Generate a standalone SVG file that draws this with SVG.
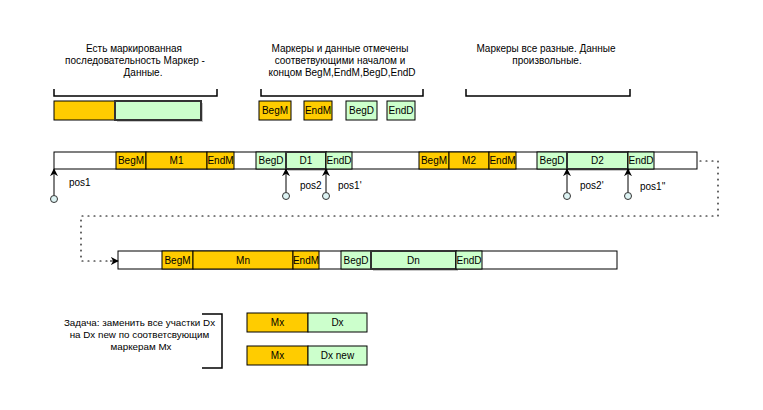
<svg xmlns="http://www.w3.org/2000/svg" width="763" height="410" viewBox="0 0 763 410">
<style>
text{font-family:"Liberation Sans",Arial,sans-serif;font-size:10px;fill:#000}
.c{text-anchor:middle}
.m{fill:#ffcc00;stroke:#000;stroke-width:1}
.d{fill:#ccffcc;stroke:#000;stroke-width:1}
.dt{fill:#ccffcc;stroke:#333;stroke-width:2}
.w{fill:#fff;stroke:#000;stroke-width:1}
.sh{fill:#000;opacity:.22}
.br{fill:none;stroke:#000;stroke-width:1.5}
.ar{fill:none;stroke:#000;stroke-width:1}
.dot{fill:none;stroke:#000;stroke-width:1.2;stroke-dasharray:1 5;stroke-linecap:round}
.o{fill:#ddf3f3;stroke:#333;stroke-width:1}
</style>
<defs>
<marker id="ah" viewBox="0 0 10 10" refX="9" refY="5" markerWidth="8" markerHeight="8" markerUnits="userSpaceOnUse" orient="auto">
<path d="M0,0 L10,5 L0,10 L3,5 Z" fill="#000"/>
</marker>
</defs>

<g id="note1">
<text class="c" x="134" y="52">Есть маркированная</text>
<text class="c" x="135" y="64">последовательность Маркер -</text>
<text class="c" x="143" y="76">Данные.</text>
<path class="br" d="M54,89 V96 H217 V89"/>
</g>
<g id="note2">
<text class="c" x="340" y="52">Маркеры и данные отмечены</text>
<text class="c" x="340" y="64">соответвующими началом и</text>
<text class="c" x="342" y="76">концом BegM,EndM,BegD,EndD</text>
<path class="br" d="M261,89 V96 H423 V89"/>
</g>
<g id="note3">
<text class="c" x="546" y="52">Маркеры все разные. Данные</text>
<text class="c" x="547" y="64">произвольные.</text>
<path class="br" d="M466,89 V96 H630 V89"/>
</g>

<g id="sample">
<rect class="m" x="54" y="101" width="61" height="19"/>
<rect class="sh" x="117" y="103" width="86" height="19"/>
<rect class="dt" x="115" y="101" width="86" height="19"/>
</g>
<g id="legend-BegM"><rect class="m" x="259" y="101" width="32" height="19"/><text class="c" x="275" y="114">BegM</text></g>
<g id="legend-EndM"><rect class="m" x="304" y="101" width="28" height="19"/><text class="c" x="318" y="114">EndM</text></g>
<g id="legend-BegD"><rect class="d" x="346" y="101" width="31" height="19"/><text class="c" x="361.5" y="114">BegD</text></g>
<g id="legend-EndD"><rect class="d" x="387" y="101" width="28" height="19"/><text class="c" x="401" y="114">EndD</text></g>

<g id="seq1">
<rect class="w" x="54" y="152" width="643" height="17"/>
<rect class="m" x="116" y="152" width="30" height="17"/><text class="c" x="131" y="164">BegM</text>
<rect class="m" x="146" y="152" width="61" height="17"/><text class="c" x="176.5" y="164">M1</text>
<rect class="m" x="207" y="152" width="27" height="17"/><text class="c" x="220.5" y="164">EndM</text>
<rect class="d" x="256" y="152" width="30" height="17"/><text class="c" x="271" y="164">BegD</text>
<rect class="sh" x="288" y="154" width="40" height="17"/>
<rect class="dt" x="286" y="152" width="40" height="17"/><text class="c" x="306" y="164">D1</text>
<rect class="d" x="326" y="152" width="26" height="17"/><text class="c" x="339" y="164">EndD</text>
<rect class="m" x="419" y="152" width="30" height="17"/><text class="c" x="434" y="164">BegM</text>
<rect class="m" x="449" y="152" width="40" height="17"/><text class="c" x="469" y="164">M2</text>
<rect class="m" x="489" y="152" width="27" height="17"/><text class="c" x="502.5" y="164">EndM</text>
<rect class="d" x="537" y="152" width="30" height="17"/><text class="c" x="552" y="164">BegD</text>
<rect class="sh" x="569" y="154" width="61" height="17"/>
<rect class="dt" x="567" y="152" width="61" height="17"/><text class="c" x="597.5" y="164">D2</text>
<rect class="d" x="628" y="152" width="26" height="17"/><text class="c" x="641" y="164">EndD</text>
</g>

<g id="seq2">
<rect class="w" x="118" y="251" width="499" height="18"/>
<rect class="m" x="162" y="251" width="31" height="18"/><text class="c" x="177.5" y="263.5">BegM</text>
<rect class="m" x="193" y="251" width="100" height="18"/><text class="c" x="243" y="263.5">Mn</text>
<rect class="m" x="293" y="251" width="26" height="18"/><text class="c" x="306" y="263.5">EndM</text>
<rect class="d" x="341" y="251" width="30" height="18"/><text class="c" x="356" y="263.5">BegD</text>
<rect class="sh" x="373" y="253" width="85" height="18"/>
<rect class="dt" x="371" y="251" width="85" height="18"/><text class="c" x="413.5" y="263.5">Dn</text>
<rect class="d" x="456" y="251" width="26" height="18"/><text class="c" x="469" y="263.5">EndD</text>
</g>

<g id="task">
<text class="c" x="139.5" y="326" style="font-size:9.8px">Задача: заменить все участки Dx</text>
<text class="c" x="139.5" y="338" style="font-size:9.8px">на Dx new по соответсвующим</text>
<text class="c" x="141" y="350" style="font-size:9.8px">маркерам Mx</text>
<path class="br" d="M202,314 H222 V368 H202"/>
</g>
<g id="before">
<rect class="m" x="247" y="313" width="61" height="19"/><text class="c" x="277.5" y="326">Mx</text>
<rect class="d" x="308" y="313" width="59" height="19"/><text class="c" x="337.5" y="326">Dx</text>
</g>
<g id="after">
<rect class="m" x="247" y="346" width="61" height="19"/><text class="c" x="277.5" y="359">Mx</text>
<rect class="d" x="308" y="346" width="59" height="19"/><text class="c" x="337.5" y="359">Dx new</text>
</g>

<g id="connectors">
<path class="dot" d="M700,161 H718 V216 H81 V261 H110"/>
<path d="M110,261 H118" class="ar" marker-end="url(#ah)"/>
<path class="ar" d="M54,195.5 V169" marker-end="url(#ah)"/>
<path class="ar" d="M286,192.5 V169" marker-end="url(#ah)"/>
<path class="ar" d="M326,192.5 V169" marker-end="url(#ah)"/>
<path class="ar" d="M567,192.5 V169" marker-end="url(#ah)"/>
<path class="ar" d="M628,192.5 V169" marker-end="url(#ah)"/>
</g>
<g id="pos1"><circle class="o" cx="54" cy="199" r="3.5"/><text x="69" y="186">pos1</text></g>
<g id="pos2"><circle class="o" cx="286" cy="196" r="3.5"/><text x="300" y="189">pos2</text></g>
<g id="pos1p"><circle class="o" cx="326" cy="196" r="3.5"/><text x="338" y="189">pos1'</text></g>
<g id="pos2p"><circle class="o" cx="567" cy="196" r="3.5"/><text x="580" y="189">pos2'</text></g>
<g id="pos1pp"><circle class="o" cx="628" cy="196" r="3.5"/><text x="640" y="190">pos1''</text></g>
</svg>
